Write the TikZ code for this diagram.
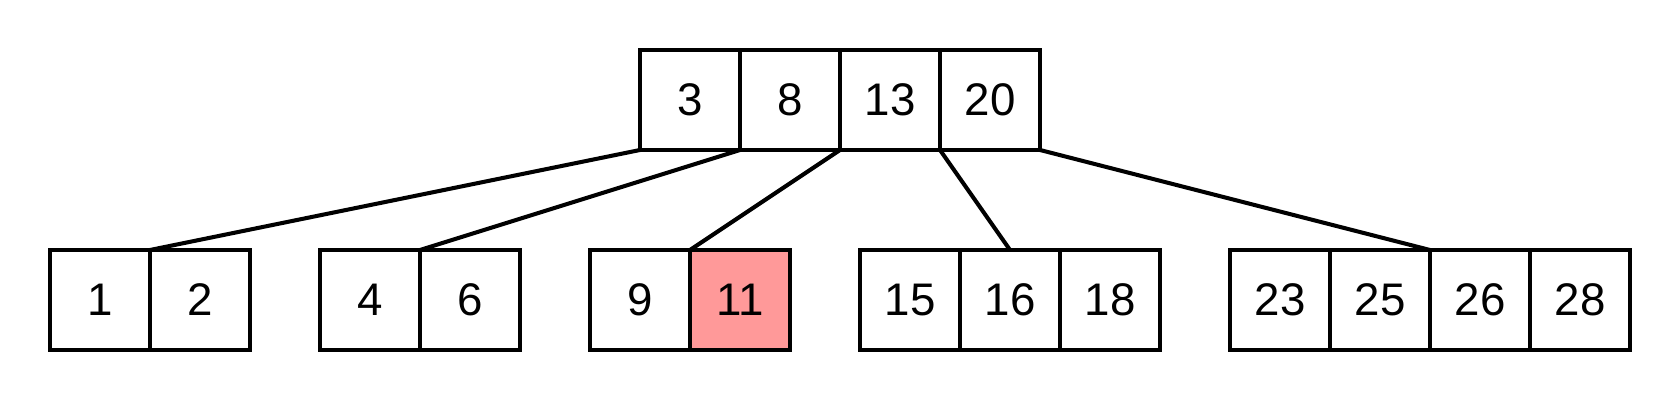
\documentclass[tikz,border=0pt]{standalone}
\usepackage{fontspec}
\setmainfont{Liberation Sans}
\usepackage{tikz}
\usetikzlibrary{positioning}
\usepackage{xcolor}
\definecolor{hitred}{HTML}{FF9999}
\tikzstyle{cell}    = [draw, line width=2.3pt, minimum size=2cm, inner sep=0pt, outer sep=0pt, align=center, font=\fontsize{26}{30}\selectfont]
\tikzstyle{edge}    = [line width=2.3pt]

\begin{document}
\begin{tikzpicture}[scale=1]
\useasboundingbox (0,0) rectangle (33.6,8);

% root
\node[cell,fill=white] (R1)   at (13.8,6) {3};
\node[cell,fill=white] (R2)   at (15.8,6) {8};
\node[cell,fill=white] (R3)   at (17.8,6) {13};
\node[cell,fill=white] (R4)   at (19.8,6) {20};

% leaves
\node[cell,fill=white] (A1)   at (2,2) {1};
\node[cell,fill=white] (A2)   at (4,2) {2};

\node[cell,fill=white] (B1)   at (7.4,2) {4};
\node[cell,fill=white] (B2)   at (9.4,2) {6};

\node[cell,fill=white] (C1)   at (12.8,2) {9};
\node[cell,fill=hitred] (C2)  at (14.8,2) {11};

\node[cell,fill=white] (D1)   at (18.2,2) {15};
\node[cell,fill=white] (D2)   at (20.2,2) {16};
\node[cell,fill=white] (D3)   at (22.2,2) {18};

\node[cell,fill=white] (E1)   at (25.6,2) {23};
\node[cell,fill=white] (E2)   at (27.6,2) {25};
\node[cell,fill=white] (E3)   at (29.6,2) {26};
\node[cell,fill=white] (E4)   at (31.6,2) {28};

\draw[edge] (R1.south west) -- (A1.north east);
\draw[edge] (R1.south east) -- (B1.north east);
\draw[edge] (R2.south east) -- (C1.north east);
\draw[edge] (R3.south east) -- (D2.north);
\draw[edge] (R4.south east) -- (E2.north east);

\end{tikzpicture}
\end{document}
